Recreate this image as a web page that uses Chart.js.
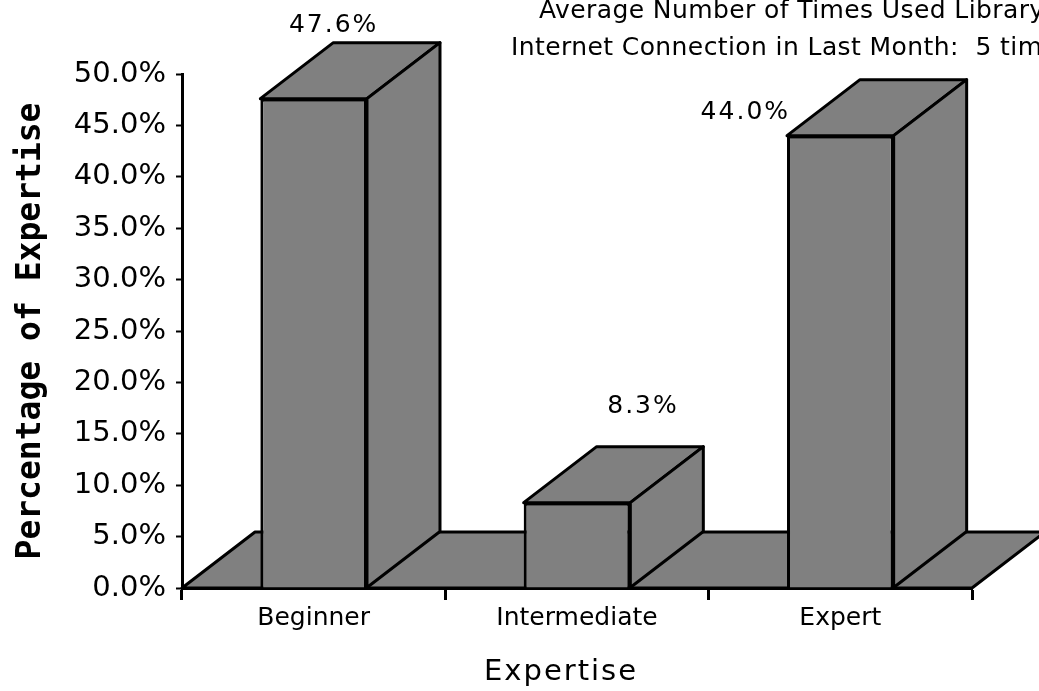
<!DOCTYPE html>
<html>
<head>
<meta charset="utf-8">
<script src="https://cdn.jsdelivr.net/npm/chart.js@4"></script>
<style>
  html, body { margin: 0; padding: 0; background: #fff; overflow: hidden; }
  #wrap { width: 1039px; height: 691px; }
</style>
</head>
<body>
<div id="wrap"><canvas id="myChart" width="1039" height="691"></canvas></div>
<script>
var categories = ['Beginner', 'Intermediate', 'Expert'];
var percentages = [47.6, 8.3, 44.0];
var yTicks = [0, 5, 10, 15, 20, 25, 30, 35, 40, 45, 50];
var noteLines = ['Average Number of Times Used Library', 'Internet Connection in Last Month:  5 times'];
var xTitle = 'Expertise';

var GREY = '#808080';
var DX = 73, DY = 56;   // depth of the fake 3D
var LINE = 3;
var sans = '"DejaVu Sans", sans-serif';

function poly(c, pts) {
    c.beginPath();
    c.moveTo(pts[0][0], pts[0][1]);
    for (var i = 1; i < pts.length; i++) c.lineTo(pts[i][0], pts[i][1]);
    c.closePath();
    c.fill();
    c.stroke();
}

var fake3d = {
    id: 'fake3d',
    beforeDatasetsDraw: function (chart) {
        var c = chart.ctx, a = chart.chartArea;
        c.save();
        c.fillStyle = GREY; c.strokeStyle = '#000'; c.lineWidth = LINE; c.lineJoin = 'round';
        poly(c, [[a.left, a.bottom], [a.left + DX, a.bottom - DY], [a.right + DX, a.bottom - DY], [a.right, a.bottom]]);
        c.restore();
    },
    afterDatasetsDraw: function (chart) {
        var c = chart.ctx;
        c.save();
        c.fillStyle = GREY; c.strokeStyle = '#000'; c.lineWidth = LINE; c.lineJoin = 'round';
        chart.getDatasetMeta(0).data.forEach(function (bar) {
            var l = bar.x - bar.width / 2, r = bar.x + bar.width / 2;
            poly(c, [[l, bar.y], [l + DX, bar.y - DY], [r + DX, bar.y - DY], [r, bar.y]]);
            poly(c, [[r, bar.y], [r + DX, bar.y - DY], [r + DX, bar.base - DY], [r, bar.base]]);
        });
        c.restore();
    },
    afterDraw: function (chart) {
        var c = chart.ctx;
        var shift = [[20, -73], [66, -96], [-95, -23]];
        c.save();
        c.fillStyle = '#000';
        c.font = '25px ' + sans;
        c.letterSpacing = '2px';
        c.textAlign = 'center';
        c.textBaseline = 'middle';
        chart.getDatasetMeta(0).data.forEach(function (bar, i) {
            c.fillText(percentages[i].toFixed(1) + '%', bar.x + shift[i][0], bar.y + shift[i][1]);
        });
        c.font = '29px ' + sans;
        c.fillText(xTitle, 561, 672);
        c.textAlign = 'left';
        c.letterSpacing = '0.4px';
        c.font = '25px ' + sans;
        c.fillText(noteLines[0], 539, 11);
        c.fillText(noteLines[1], 511, 48);
        c.restore();
    }
};

var ctx = document.getElementById('myChart');
var myChart = new Chart(ctx, {
    type: 'bar',
    plugins: [fake3d],
    data: {
        labels: categories,
        datasets: [{
            data: percentages,
            backgroundColor: GREY,
            borderColor: '#000',
            borderWidth: LINE,
            barPercentage: 0.405,
            categoryPercentage: 1
        }]
    },
    options: {
        responsive: false,
        animation: false,
        layout: { padding: { top: 74, right: 67, left: 0, bottom: 0 } },
        plugins: { legend: { display: false }, tooltip: { enabled: false } },
        scales: {
            y: {
                min: 0,
                max: 50,
                afterFit: function (s) { s.width = 182; },
                afterBuildTicks: function (s) { s.ticks = yTicks.map(function (v) { return { value: v }; }); },
                border: { color: '#000', width: 3 },
                grid: { drawOnChartArea: false, color: '#000', tickLength: 6, tickWidth: 2 },
                ticks: {
                    color: '#000',
                    padding: 10,
                    autoSkip: false,
                    font: { family: sans, size: 29 },
                    callback: function (v) { return v.toFixed(1) + '%'; }
                },
                title: {
                    display: true,
                    text: 'Percentage of Expertise',
                    color: '#000',
                    padding: { top: 12, bottom: 0 },
                    font: { family: '"DejaVu Sans Mono", monospace', size: 33, weight: 'bold' }
                }
            },
            x: {
                afterFit: function (s) { s.height = 103; },
                border: { color: '#000', width: 3 },
                grid: { drawOnChartArea: false, color: '#000', tickLength: 12, tickWidth: 3 },
                ticks: { color: '#000', padding: 3, maxRotation: 0, font: { family: sans, size: 25 } }
            }
        }
    }
});
</script>
</body>
</html>
